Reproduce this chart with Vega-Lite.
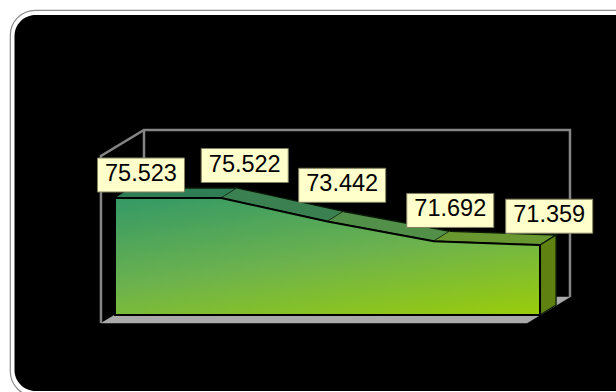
{
  "$schema": "https://vega.github.io/schema/vega-lite/v6.json",
  "width": 640,
  "height": 386,
  "padding": {"left": 10, "top": 10, "right": 0, "bottom": 0},
  "autosize": "none",
  "background": "#ffffff",
  "view": {"fill": "#ffffff", "stroke": "#8a8a8a", "strokeWidth": 1.2, "cornerRadius": 25},
  "datasets": {
    "series": [
      {"idx": 0, "value": 75.523},
      {"idx": 1, "value": 75.522},
      {"idx": 2, "value": 73.442},
      {"idx": 3, "value": 71.692},
      {"idx": 4, "value": 71.359}
    ],
    "floor": [
      {"n": 0, "idx": -0.132, "level": 64.451},
      {"n": 1, "idx": 3.878, "level": 64.451},
      {"n": 2, "idx": 4.282, "level": 66.754},
      {"n": 3, "idx": 0.273, "level": 66.754}
    ],
    "walls": [
      {"n": 0, "idx": -0.132, "level": 64.451},
      {"n": 1, "idx": -0.132, "level": 79.243},
      {"n": 2, "idx": 0.273, "level": 81.546},
      {"n": 3, "idx": 4.282, "level": 81.546},
      {"n": 4, "idx": 4.282, "level": 66.754}
    ],
    "wallCorner": [
      {"n": 0, "idx": 0.273, "level": 81.546},
      {"n": 1, "idx": 0.273, "level": 75.5}
    ],
    "faces": [
      {"face": "top1", "n": 0, "idx": 0, "level": 75.523},
      {"face": "top1", "n": 1, "idx": 1, "level": 75.522},
      {"face": "top1", "n": 2, "idx": 1.151, "level": 76.408},
      {"face": "top1", "n": 3, "idx": 0.151, "level": 76.409},
      {"face": "top2", "n": 0, "idx": 1, "level": 75.522},
      {"face": "top2", "n": 1, "idx": 2, "level": 73.442},
      {"face": "top2", "n": 2, "idx": 2.151, "level": 74.328},
      {"face": "top2", "n": 3, "idx": 1.151, "level": 76.408},
      {"face": "top3", "n": 0, "idx": 2, "level": 73.442},
      {"face": "top3", "n": 1, "idx": 3, "level": 71.692},
      {"face": "top3", "n": 2, "idx": 3.151, "level": 72.578},
      {"face": "top3", "n": 3, "idx": 2.151, "level": 74.328},
      {"face": "top4", "n": 0, "idx": 3, "level": 71.692},
      {"face": "top4", "n": 1, "idx": 4, "level": 71.359},
      {"face": "top4", "n": 2, "idx": 4.151, "level": 72.245},
      {"face": "top4", "n": 3, "idx": 3.151, "level": 72.578},
      {"face": "side", "n": 0, "idx": 4, "level": 71.359},
      {"face": "side", "n": 1, "idx": 4.151, "level": 72.245},
      {"face": "side", "n": 2, "idx": 4.151, "level": 66.046},
      {"face": "side", "n": 3, "idx": 4, "level": 65.16}
    ]
  },
  "encoding": {
    "x": {"field": "idx", "type": "quantitative", "axis": null, "scale": {"domain": [-0.988, 5.035], "nice": false, "zero": false}},
    "y": {"field": "level", "type": "quantitative", "axis": null, "scale": {"domain": [57.985, 92.175], "nice": false, "zero": false}}
  },
  "layer": [
    {
      "data": {"values": [{}]},
      "mark": {"type": "rect", "fill": "#000000", "cornerRadius": 21},
      "encoding": {
        "x": {"value": 4.5},
        "x2": {"value": 640},
        "y": {"value": 5},
        "y2": {"value": 381}
      }
    },
    {
      "data": {"name": "floor"},
      "mark": {"type": "line", "fill": "#aaaaaa", "fillOpacity": 1, "stroke": "#aaaaaa", "strokeWidth": 0.5, "opacity": 1},
      "encoding": {"order": {"field": "n"}}
    },
    {
      "data": {"name": "wallCorner"},
      "mark": {"type": "line", "stroke": "#858585", "strokeWidth": 2.5, "opacity": 1},
      "encoding": {"order": {"field": "n"}}
    },
    {
      "data": {"name": "walls"},
      "mark": {"type": "line", "stroke": "#858585", "strokeWidth": 2.5, "opacity": 1},
      "encoding": {"order": {"field": "n"}}
    },
    {
      "data": {"name": "faces"},
      "mark": {"type": "line", "fillOpacity": 1, "stroke": "#0b1a08", "strokeWidth": 1.3, "opacity": 1},
      "encoding": {
        "order": {"field": "n"},
        "detail": {"field": "face"},
        "fill": {
          "field": "face",
          "legend": null,
          "scale": {
            "domain": ["top1", "top2", "top3", "top4", "side"],
            "range": ["#2e7d55", "#3b8050", "#529049", "#68982f", "#5e8112"]
          }
        }
      }
    },
    {
      "data": {"name": "series"},
      "mark": {
        "type": "area",
        "opacity": 1,
        "stroke": "#000000",
        "strokeWidth": 2,
        "fill": {
          "gradient": "linear",
          "x1": 0, "y1": 0, "x2": 0.64, "y2": 1.19,
          "stops": [
            {"offset": 0, "color": "#339966"},
            {"offset": 0.5, "color": "#6cb24e"},
            {"offset": 1, "color": "#9acd0a"}
          ]
        }
      },
      "encoding": {
        "y": {"field": "value", "type": "quantitative"},
        "y2": {"datum": 65.16}
      }
    },
    {"data": {"name": "series"}, "transform": [{"filter": "datum.idx === 0"}], "mark": {"type": "rect", "width": 87, "height": 34, "fill": "#ffffcc", "stroke": "#808060", "strokeWidth": 1, "opacity": 1, "xOffset": 26, "yOffset": -23}, "encoding": {"y": {"field": "value", "type": "quantitative"}}},
    {"data": {"name": "series"}, "transform": [{"filter": "datum.idx === 1"}], "mark": {"type": "rect", "width": 87, "height": 34, "fill": "#ffffcc", "stroke": "#808060", "strokeWidth": 1, "opacity": 1, "xOffset": 23.5, "yOffset": -32.5}, "encoding": {"y": {"field": "value", "type": "quantitative"}}},
    {"data": {"name": "series"}, "transform": [{"filter": "datum.idx === 2"}], "mark": {"type": "rect", "width": 87, "height": 34, "fill": "#ffffcc", "stroke": "#808060", "strokeWidth": 1, "opacity": 1, "xOffset": 14.7, "yOffset": -36.2}, "encoding": {"y": {"field": "value", "type": "quantitative"}}},
    {"data": {"name": "series"}, "transform": [{"filter": "datum.idx === 3"}], "mark": {"type": "rect", "width": 87, "height": 34, "fill": "#ffffcc", "stroke": "#808060", "strokeWidth": 1, "opacity": 1, "xOffset": 16.5, "yOffset": -30.8}, "encoding": {"y": {"field": "value", "type": "quantitative"}}},
    {"data": {"name": "series"}, "transform": [{"filter": "datum.idx === 4"}], "mark": {"type": "rect", "width": 87, "height": 34, "fill": "#ffffcc", "stroke": "#808060", "strokeWidth": 1, "opacity": 1, "xOffset": 9.2, "yOffset": -28.8}, "encoding": {"y": {"field": "value", "type": "quantitative"}}},
    {"data": {"name": "series"}, "transform": [{"filter": "datum.idx === 0"}], "mark": {"type": "text", "font": "Liberation Sans", "fontSize": 23.5, "fill": "#000000", "baseline": "middle", "dx": 26, "dy": -24}, "encoding": {"y": {"field": "value", "type": "quantitative"}, "text": {"field": "value", "type": "quantitative", "format": ".3f"}}},
    {"data": {"name": "series"}, "transform": [{"filter": "datum.idx === 1"}], "mark": {"type": "text", "font": "Liberation Sans", "fontSize": 23.5, "fill": "#000000", "baseline": "middle", "dx": 23.5, "dy": -33.5}, "encoding": {"y": {"field": "value", "type": "quantitative"}, "text": {"field": "value", "type": "quantitative", "format": ".3f"}}},
    {"data": {"name": "series"}, "transform": [{"filter": "datum.idx === 2"}], "mark": {"type": "text", "font": "Liberation Sans", "fontSize": 23.5, "fill": "#000000", "baseline": "middle", "dx": 14.7, "dy": -37.2}, "encoding": {"y": {"field": "value", "type": "quantitative"}, "text": {"field": "value", "type": "quantitative", "format": ".3f"}}},
    {"data": {"name": "series"}, "transform": [{"filter": "datum.idx === 3"}], "mark": {"type": "text", "font": "Liberation Sans", "fontSize": 23.5, "fill": "#000000", "baseline": "middle", "dx": 16.5, "dy": -31.8}, "encoding": {"y": {"field": "value", "type": "quantitative"}, "text": {"field": "value", "type": "quantitative", "format": ".3f"}}},
    {"data": {"name": "series"}, "transform": [{"filter": "datum.idx === 4"}], "mark": {"type": "text", "font": "Liberation Sans", "fontSize": 23.5, "fill": "#000000", "baseline": "middle", "dx": 9.2, "dy": -29.8}, "encoding": {"y": {"field": "value", "type": "quantitative"}, "text": {"field": "value", "type": "quantitative", "format": ".3f"}}}
  ]
}
